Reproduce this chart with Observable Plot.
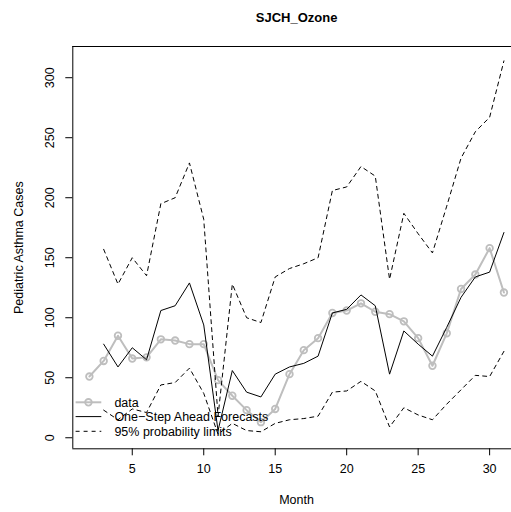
<!DOCTYPE html>
<html>
<head>
<meta charset="utf-8">
<script src="https://cdn.jsdelivr.net/npm/d3@7"></script>
<script src="https://cdn.jsdelivr.net/npm/@observablehq/plot@0.6"></script>
<style>
  html, body { margin: 0; padding: 0; background: #fff; overflow: hidden; }
  #chart svg { overflow: hidden !important; display: block; }
</style>
</head>
<body>
<div id="chart"></div>
<script>
// Monthly pediatric asthma cases (SJCH, ozone model)
const months = [2, 3, 4, 5, 6, 7, 8, 9, 10, 11, 12, 13, 14, 15, 16, 17, 18, 19, 20, 21, 22, 23, 24, 25, 26, 27, 28, 29, 30, 31];
const observed = [51, 64, 85, 66, 67, 82, 81, 78, 78, 48, 35, 23, 13, 24, 53, 73, 83, 104, 106, 112, 105, 103, 97, 83, 60, 87, 124, 136, 158, 121];

// One-step-ahead forecasts and 95% limits start at month 3
const forecastMonths = [3, 4, 5, 6, 7, 8, 9, 10, 11, 12, 13, 14, 15, 16, 17, 18, 19, 20, 21, 22, 23, 24, 25, 26, 27, 28, 29, 30, 31];
const forecast = [78, 59, 75, 65, 106, 110, 129, 94, 6, 56, 38, 34, 53, 59, 62, 68, 104, 107, 119, 110, 53, 89, 78, 68, 92, 117, 134, 138, 171];
const upper = [157, 128, 150, 135, 195, 200, 229, 182, 18, 128, 100, 96, 134, 141, 145, 150, 206, 209, 226, 218, 132, 187, 170, 154, 193, 233, 255, 267, 314];
const lower = [23, 15, 24, 21, 44, 46, 58, 37, 3, 12, 6, 5, 12, 15, 16, 18, 38, 39, 47, 39, 9, 25, 19, 15, 28, 40, 52, 51, 72];

const xTicks = [5, 10, 15, 20, 25, 30];
const yTicks = [0, 50, 100, 150, 200, 250, 300];
const legendLabels = ["data", "One\u2212Step Ahead Forecasts", "95% probability limits"];

const xDomain = [0.84, 32.16];
const yDomain = [-9.2, 326];

const obsRows = months.map((m, i) => ({month: m, value: observed[i]}));
const fcRows = forecastMonths.map((m, i) => ({month: m, forecast: forecast[i], upper: upper[i], lower: lower[i]}));

const font = "'Liberation Sans', Arial, Helvetica, sans-serif";
const gray = "#bebebe";
const dash = "4,4";
const fs = 12.5;

// Legend in the lower-left corner of the panel, no box
function legendMark(index, scales, values, dims) {
  const g = d3.create("svg:g")
    .attr("font-family", font)
    .attr("font-size", fs)
    .attr("text-anchor", "start")
    .attr("fill", "black");
  const bottom = dims.height - dims.marginBottom;
  const x0 = dims.marginLeft + 3.3, x1 = x0 + 25.7, tx = x0 + 38.8;
  const rowY = [bottom - 46, bottom - 31.7, bottom - 17];
  const styles = [
    {stroke: gray, width: 2, dasharray: null, point: true},
    {stroke: "black", width: 1, dasharray: null, point: false},
    {stroke: "black", width: 1, dasharray: dash, point: false}
  ];
  legendLabels.forEach((label, i) => {
    const s = styles[i];
    const y = rowY[i];
    const line = g.append("line")
      .attr("x1", x0).attr("x2", x1)
      .attr("y1", y).attr("y2", y)
      .attr("stroke", s.stroke)
      .attr("stroke-width", s.width);
    if (s.dasharray) line.attr("stroke-dasharray", s.dasharray);
    if (s.point) {
      g.append("circle")
        .attr("cx", (x0 + x1) / 2).attr("cy", y).attr("r", 3.3)
        .attr("fill", "none").attr("stroke", gray).attr("stroke-width", 1.8);
    }
    g.append("text")
      .attr("x", tx).attr("y", y)
      .attr("dy", "0.35em")
      .attr("text-anchor", "start")
      .text(label);
  });
  return g.node();
}

const chart = Plot.plot({
  width: 511,
  height: 512,
  marginLeft: 72.3,
  marginRight: 0,
  marginTop: 46,
  marginBottom: 63.7,
  style: {fontFamily: font, fontSize: fs + "px", color: "black", background: "white"},
  x: {domain: xDomain, range: [72.3, 520]},
  y: {domain: yDomain},
  marks: [
    // panel border (the right side falls outside the picture)
    Plot.ruleY(yDomain, {stroke: "black", strokeWidth: 1}),
    Plot.ruleX([xDomain[0]], {stroke: "black", strokeWidth: 1}),

    // axes
    Plot.axisX(xTicks, {tickSize: 7, tickPadding: 8, fontSize: fs, label: null}),
    Plot.axisY(yTicks, {tickSize: 7, tickFormat: () => "", label: null}),
    Plot.text(yTicks, {y: d => d, text: d => String(d), frameAnchor: "left", textAnchor: "middle", dx: -23, rotate: -90, fontSize: fs}),

    // observed counts
    Plot.line(obsRows, {x: "month", y: "value", stroke: gray, strokeWidth: 2}),
    Plot.dot(obsRows, {x: "month", y: "value", r: 3.3, stroke: gray, strokeWidth: 1.8, fill: "none"}),

    // forecasts and probability limits
    Plot.line(fcRows, {x: "month", y: "forecast", stroke: "black", strokeWidth: 1}),
    Plot.line(fcRows, {x: "month", y: "upper", stroke: "black", strokeWidth: 1, strokeDasharray: dash}),
    Plot.line(fcRows, {x: "month", y: "lower", stroke: "black", strokeWidth: 1, strokeDasharray: dash}),

    legendMark,

    // titles
    Plot.text(["SJCH_Ozone"], {frameAnchor: "top", dx: 4.4, dy: -34, fontWeight: "bold", fontSize: 13}),
    Plot.text(["Month"], {frameAnchor: "bottom", dx: 4.4, dy: 55, fontSize: fs}),
    Plot.text(["Pediatric Asthma Cases"], {frameAnchor: "left", textAnchor: "middle", dx: -54, rotate: -90, fontSize: fs})
  ]
});

document.getElementById("chart").appendChild(chart);
</script>
</body>
</html>
